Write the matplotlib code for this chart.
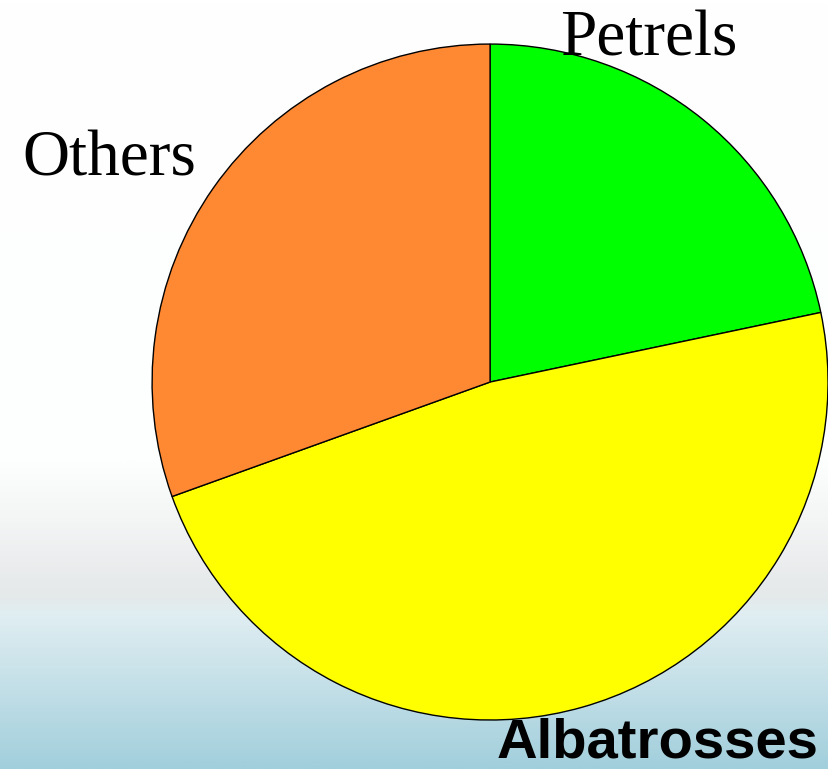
import matplotlib
matplotlib.use("Agg")
import matplotlib.pyplot as plt
import numpy as np
from matplotlib.colors import LinearSegmentedColormap

# data (share of birds, %)
labels = ["Petrels", "Albatrosses", "Others"]
values = [21.7, 47.8, 30.5]
colors = ["#00ff00", "#ffff00", "#ff8833"]

fig = plt.figure(figsize=(8.29, 7.69), dpi=100)

# background: white sky, hazy horizon, pale sea
bg = fig.add_axes([0, 0, 1, 1])
sky = LinearSegmentedColormap.from_list("sky", [
    (0.0, "#ffffff"), (0.60, "#fdfefe"), (0.68, "#f3f5f5"),
    (0.74, "#eaeced"), (0.78, "#e4e9ea"), (0.80, "#e0eef2"),
    (0.89, "#c5e0e8"), (1.0, "#a2cfdc")])
grad = np.linspace(0, 1, 400).reshape(-1, 1)
bg.imshow(grad, cmap=sky, aspect="auto", extent=[0, 1, 0, 1])
bg.axis("off")

# pie
ax = fig.add_axes([0.1834, 0.0637, 0.8155, 0.879])
ax.pie(values, colors=colors, startangle=90, counterclock=False,
       wedgeprops=dict(edgecolor="black", linewidth=1.0))
ax.set_xlim(-1.0, 1.0)
ax.set_ylim(-1.0, 1.0)
ax.set_aspect("equal")
ax.axis("off")

W, H = 829, 769
fig.text(560 / W, 1 - 55 / H, "Petrels", fontsize=47,
         family="Liberation Serif", ha="left", va="baseline")
fig.text(22 / W, 1 - 176 / H, "Others", fontsize=47,
         family="Liberation Serif", ha="left", va="baseline")
fig.text(497 / W, 1 - 757 / H, "Albatrosses", fontsize=40.5, fontweight="bold",
         family="Liberation Sans", ha="left", va="baseline")

fig.savefig("out.png", dpi=100)
